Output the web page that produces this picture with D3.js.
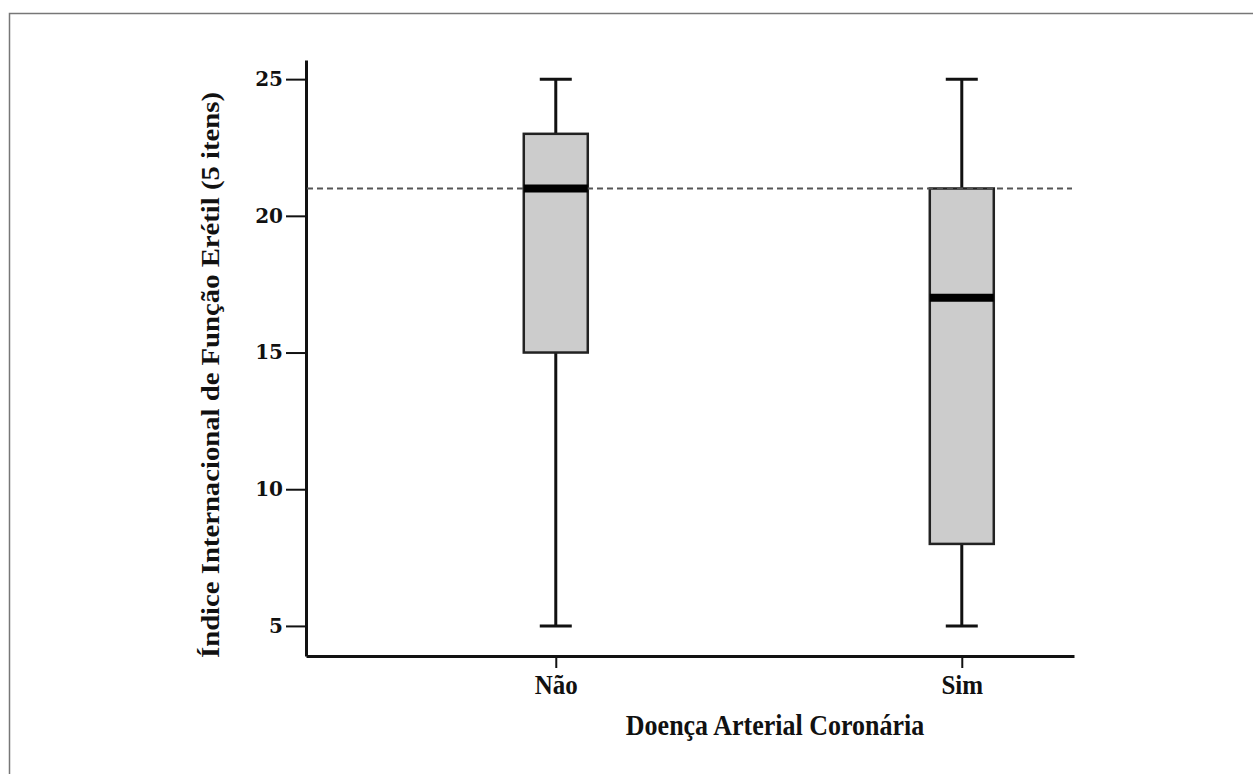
<!DOCTYPE html>
<html>
<head>
<meta charset="utf-8">
<script src="https://cdn.jsdelivr.net/npm/d3@7"></script>
<style>
  body { margin: 0; background: #fff; }
  svg { display: block; }
</style>
</head>
<body>
<div id="chart"></div>
<script>
// boxplot: IIEF-5 score by coronary artery disease

var w = 1253;
var h = 774;

var categories = ["Não", "Sim"];
var whiskerLow = [5, 5];
var q1 = [15, 8];
var median = [21, 17];
var q3 = [23, 21];
var whiskerHigh = [25, 25];
var yTicks = [5, 10, 15, 20, 25];
var cutoff = 21; // dashed reference line

var serif = "'Liberation Serif', 'Times New Roman', serif";
var stretch = 1.12; // source picture is a bit taller than wide

var svg = d3.select("#chart")
            .append("svg")
            .attr("width", w)
            .attr("height", h);

// outer frame (right/bottom edges fall off the picture)
svg.append("rect")
   .attr("x", 9.5)
   .attr("y", 13.5)
   .attr("width", 1400)
   .attr("height", 900)
   .attr("fill", "none")
   .attr("stroke", "#777")
   .attr("stroke-width", 1.5);

var y = d3.scaleLinear()
          .domain([3.9, 25.7])
          .range([656, 60]);

var x = d3.scalePoint()
          .domain(categories)
          .range([306, 1074])
          .padding(0.4458)
          .align(0.69);

var boxW = 64;
var capW = 32;

// y axis
var yAxis = svg.append("g")
   .attr("transform", "translate(306,0)")
   .call(d3.axisLeft(y).tickValues(yTicks).tickSize(20).tickSizeOuter(0).tickPadding(3));

yAxis.select(".domain").attr("stroke", "#111").attr("stroke-width", 3);
yAxis.selectAll(".tick line").attr("stroke", "#111").attr("stroke-width", 2);
yAxis.selectAll(".tick text")
     .attr("fill", "#111")
     .style("font-family", "'DejaVu Serif', serif")
     .style("font-weight", "bold")
     .style("font-size", "20px");

// x axis
var xAxis = svg.append("g")
   .attr("transform", "translate(0,656)")
   .call(d3.axisBottom(x).tickSize(12).tickSizeOuter(0));

xAxis.select(".domain").attr("stroke", "#111").attr("stroke-width", 3);
xAxis.selectAll(".tick line").attr("stroke", "#111").attr("stroke-width", 2);
xAxis.selectAll(".tick text")
     .attr("y", 0)
     .attr("dy", 0)
     .attr("transform", "translate(0,38) scale(1," + stretch + ")")
     .attr("fill", "#111")
     .style("font-family", serif)
     .style("font-weight", "bold")
     .style("font-size", "25px");

// boxes
var boxes = svg.append("g")
   .selectAll("g")
   .data(categories)
   .enter()
   .append("g");

boxes.append("line") // whisker
     .attr("x1", function (d) { return x(d); })
     .attr("x2", function (d) { return x(d); })
     .attr("y1", function (d, i) { return y(whiskerLow[i]); })
     .attr("y2", function (d, i) { return y(whiskerHigh[i]); })
     .attr("stroke", "#111")
     .attr("stroke-width", 3);

boxes.selectAll(".cap")
     .data(function (d, i) { return [[d, whiskerLow[i]], [d, whiskerHigh[i]]]; })
     .enter()
     .append("line")
     .attr("class", "cap")
     .attr("x1", function (d) { return x(d[0]) - capW / 2; })
     .attr("x2", function (d) { return x(d[0]) + capW / 2; })
     .attr("y1", function (d) { return y(d[1]); })
     .attr("y2", function (d) { return y(d[1]); })
     .attr("stroke", "#111")
     .attr("stroke-width", 3);

boxes.append("rect")
     .attr("x", function (d) { return x(d) - boxW / 2; })
     .attr("width", boxW)
     .attr("y", function (d, i) { return y(q3[i]); })
     .attr("height", function (d, i) { return y(q1[i]) - y(q3[i]); })
     .attr("fill", "#cccccc")
     .attr("stroke", "#222")
     .attr("stroke-width", 2.5);

// cutoff line
svg.append("line")
   .attr("x1", 307)
   .attr("x2", 1072)
   .attr("y1", y(cutoff))
   .attr("y2", y(cutoff))
   .attr("stroke", "#555")
   .attr("stroke-width", 2)
   .attr("stroke-dasharray", "6,4");

// medians on top of the dashed line
svg.append("g")
   .selectAll("line")
   .data(categories)
   .enter()
   .append("line")
   .attr("x1", function (d) { return x(d) - boxW / 2; })
   .attr("x2", function (d) { return x(d) + boxW / 2; })
   .attr("y1", function (d, i) { return y(median[i]); })
   .attr("y2", function (d, i) { return y(median[i]); })
   .attr("stroke", "#000")
   .attr("stroke-width", 8);

// axis titles
svg.append("text")
   .attr("transform", "translate(775,735) scale(1," + stretch + ")")
   .attr("text-anchor", "middle")
   .attr("fill", "#111")
   .style("font-family", serif)
   .style("font-weight", "bold")
   .style("font-size", "26px")
   .text("Doença Arterial Coronária");

svg.append("text")
   .attr("transform", "translate(219,375) rotate(-90)")
   .attr("text-anchor", "middle")
   .attr("textLength", 566)
   .attr("lengthAdjust", "spacingAndGlyphs")
   .attr("fill", "#111")
   .style("font-family", serif)
   .style("font-weight", "bold")
   .style("font-size", "25px")
   .text("Índice Internacional de Função Erétil (5 itens)");
</script>
</body>
</html>
